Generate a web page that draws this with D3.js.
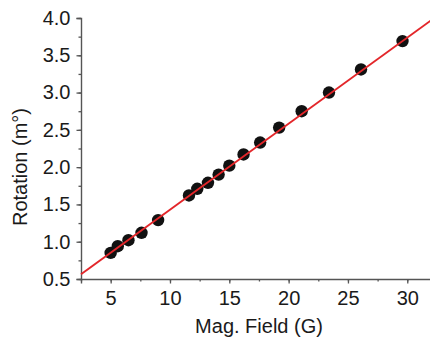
<!DOCTYPE html>
<html>
<head>
<meta charset="utf-8">
<script src="https://cdn.jsdelivr.net/npm/d3@7"></script>
<style>
  html, body { margin: 0; padding: 0; background: #fff; }
  text { font-family: "Liberation Sans", Arial, sans-serif; fill: #1a1a1a; }
</style>
</head>
<body>
<div id="chart"></div>
<script>
// measured points
const field = [5.0, 5.6, 6.5, 7.6, 9.0, 11.6, 12.3, 13.2, 14.1, 15.0, 16.2, 17.6, 19.2, 21.1, 23.4, 26.1, 29.6];
const rotation = [0.85, 0.94, 1.02, 1.12, 1.29, 1.62, 1.71, 1.79, 1.90, 2.02, 2.17, 2.33, 2.53, 2.75, 3.00, 3.31, 3.69];

// linear fit
const fitSlope = 0.1154;
const fitIntercept = 0.275;

const xTicks = [5, 10, 15, 20, 25, 30];
const yTicks = [0.5, 1.0, 1.5, 2.0, 2.5, 3.0, 3.5, 4.0];

const width = 430, height = 342;

const x = d3.scaleLinear().domain([2.5, 32]).range([81, 431]);
const y = d3.scaleLinear().domain([0.5, 4.0]).range([279, 18]);

const svg = d3.select("#chart").append("svg")
  .attr("width", width)
  .attr("height", height);

const axisColor = "#555";

// x axis
const gx = svg.append("g").attr("transform", `translate(0,${y(0.5)})`);
gx.call(d3.axisBottom(x).tickValues(d3.range(2.5, 32.01, 2.5)).tickSize(2.5).tickFormat(""));
gx.call(g => g.select(".domain").remove());
gx.append("g")
  .call(d3.axisBottom(x).tickValues(xTicks).tickSize(4.5).tickPadding(7).tickFormat(d3.format("d")))
  .call(g => g.select(".domain").attr("stroke", axisColor).attr("stroke-width", 1.4))
  .call(g => g.selectAll("text").attr("font-size", 20).attr("fill", "#1a1a1a").attr("font-family", "Liberation Sans, Arial, sans-serif"));
gx.selectAll("line").attr("stroke", axisColor).attr("stroke-width", 1.3);

// y axis
const gy = svg.append("g").attr("transform", `translate(${x(2.5)},0)`);
gy.call(d3.axisLeft(y).tickValues(d3.range(0.5, 4.01, 0.25)).tickSize(2.5).tickFormat(""));
gy.call(g => g.select(".domain").remove());
gy.append("g")
  .call(d3.axisLeft(y).tickValues(yTicks).tickSize(4.5).tickPadding(6).tickFormat(d3.format(".1f")))
  .call(g => g.select(".domain").attr("stroke", axisColor).attr("stroke-width", 1.4))
  .call(g => g.selectAll("text").attr("font-size", 20).attr("fill", "#1a1a1a").attr("font-family", "Liberation Sans, Arial, sans-serif"));
gy.selectAll("line").attr("stroke", axisColor).attr("stroke-width", 1.3);

// points
svg.append("g")
  .selectAll("circle")
  .data(field.map((f, i) => [f, rotation[i]]))
  .join("circle")
  .attr("cx", d => x(d[0]))
  .attr("cy", d => y(d[1]))
  .attr("r", 6.2)
  .attr("fill", "#111");

// fit line
const fitX = x.domain();
svg.append("path")
  .datum(fitX.map(v => [v, fitIntercept + fitSlope * v]))
  .attr("fill", "none")
  .attr("stroke", "#e3262a")
  .attr("stroke-width", 2)
  .attr("d", d3.line().x(d => x(d[0])).y(d => y(d[1])));

// titles
svg.append("text")
  .attr("x", 259)
  .attr("y", 333)
  .attr("text-anchor", "middle")
  .attr("font-size", 20)
  .text("Mag. Field (G)");

svg.append("text")
  .attr("transform", `translate(27,${167}) rotate(-90)`)
  .attr("text-anchor", "middle")
  .attr("font-size", 20)
  .text("Rotation (m°)");
</script>
</body>
</html>
